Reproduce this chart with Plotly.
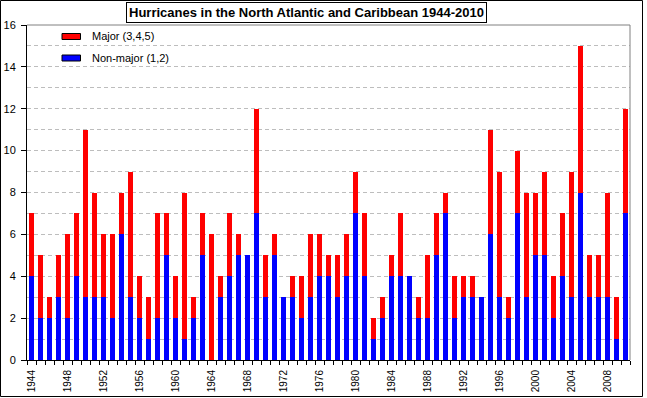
import plotly.graph_objects as go

years = list(range(1944, 2011))
total = [7, 5, 3, 5, 6, 7, 11, 8, 6, 6, 8, 9, 4, 3, 7, 7, 4, 8, 3, 7,
         6, 4, 7, 6, 5, 12, 5, 6, 3, 4, 4, 6, 6, 5, 5, 6, 9, 7, 2, 3,
         5, 7, 4, 3, 5, 7, 8, 4, 4, 4, 3, 11, 9, 3, 10, 8, 8, 9, 4, 7,
         9, 15, 5, 5, 8, 3, 12]
non_major = [4, 2, 2, 3, 2, 4, 3, 3, 3, 2, 6, 3, 2, 1, 2, 5, 2, 1, 2, 5,
             0, 3, 4, 5, 5, 7, 3, 5, 3, 3, 2, 3, 4, 4, 3, 4, 7, 4, 1, 2,
             4, 4, 4, 2, 2, 5, 7, 2, 3, 3, 3, 6, 3, 2, 7, 3, 5, 5, 2, 4,
             3, 8, 3, 3, 3, 1, 7]
major = [t - n for t, n in zip(total, non_major)]
tick_years = list(range(1944, 2010, 4))
title_text = "Hurricanes in the North Atlantic and Caribbean 1944-2010"
legend_names = ["Major (3,4,5)", "Non-major (1,2)"]

W, H = 647, 398
L, R, T, B = 27, 17, 25, 38
PW, PH = W - L - R, H - T - B


def px(x):
    return (x - L) / PW


def py(y):
    return (H - B - y) / PH


fig = go.Figure()
fig.add_trace(go.Bar(x=years, y=non_major, name=legend_names[1],
                     marker=dict(color="#0000FF", line=dict(width=0)),
                     showlegend=False))
fig.add_trace(go.Bar(x=years, y=major, name=legend_names[0],
                     marker=dict(color="#FF0000", line=dict(width=0)),
                     showlegend=False))

font_family = "Liberation Sans, Arial, sans-serif"

fig.update_layout(
    width=W, height=H,
    margin=dict(l=L, r=R, t=T, b=B, pad=0, autoexpand=False),
    paper_bgcolor="white", plot_bgcolor="white",
    barmode="stack", bargap=0.5,
    font=dict(family=font_family, color="black", size=10),
    showlegend=False,
    xaxis=dict(
        range=[1943.5, 2010.5], automargin=False,
        tickmode="array", tickvals=tick_years,
        ticktext=[str(y) for y in tick_years],
        tickangle=-90, ticks="", ticklen=0,
        tickfont=dict(size=10), ticklabelstandoff=5,
        showgrid=False, zeroline=False,
        showline=True, linecolor="black", linewidth=1,
        minor=dict(tick0=1943.5, dtick=1, ticks="outside", ticklen=4,
                   tickcolor="black", showgrid=False),
    ),
    yaxis=dict(
        range=[0, 16], dtick=2, tick0=0, automargin=False,
        ticks="outside", ticklen=5, tickcolor="black",
        tickfont=dict(size=11), ticklabelstandoff=3,
        showgrid=True, gridcolor="#BDBDBD", griddash="4px,3px", gridwidth=1,
        zeroline=False,
        showline=True, linecolor="black", linewidth=1,
        minor=dict(dtick=1, showgrid=True, gridcolor="#BDBDBD",
                   griddash="4px,3px", gridwidth=1, ticks=""),
    ),
)

shapes = [
    # plot area border (top and right)
    dict(type="line", xref="paper", yref="paper", x0=0, x1=1, y0=1, y1=1,
         line=dict(color="#808080", width=1)),
    dict(type="line", xref="paper", yref="paper", x0=1, x1=1, y0=0, y1=1,
         line=dict(color="#808080", width=1)),
    # outer frame
    dict(type="rect", xref="paper", yref="paper",
         x0=px(0.5), x1=px(642.5), y0=py(396.5), y1=py(0.5),
         line=dict(color="black", width=1)),
    # legend swatches
    dict(type="rect", xref="paper", yref="paper",
         x0=px(62), x1=px(80.5), y0=py(39.5), y1=py(33.5),
         fillcolor="#FF0000", line=dict(color="black", width=1)),
    dict(type="rect", xref="paper", yref="paper",
         x0=px(62), x1=px(80.5), y0=py(61), y1=py(55),
         fillcolor="#0000FF", line=dict(color="black", width=1)),
]
fig.update_layout(shapes=shapes)

fig.add_annotation(text=legend_names[0], xref="paper", yref="paper",
                   x=px(90), y=py(36.5), xanchor="left", yanchor="middle",
                   showarrow=False, font=dict(size=11))
fig.add_annotation(text=legend_names[1], xref="paper", yref="paper",
                   x=px(90), y=py(58), xanchor="left", yanchor="middle",
                   showarrow=False, font=dict(size=11))
fig.add_annotation(text="<b>" + title_text + "</b>", xref="paper", yref="paper",
                   x=px(306), y=py(12.5), xanchor="center", yanchor="middle",
                   showarrow=False, font=dict(size=13),
                   bordercolor="black", borderwidth=1, borderpad=2,
                   bgcolor="white")

fig.write_html("out.html", config={"displayModeBar": False},
               post_script="document.body.style.margin='0';"
                           "document.body.style.overflow='hidden';")
